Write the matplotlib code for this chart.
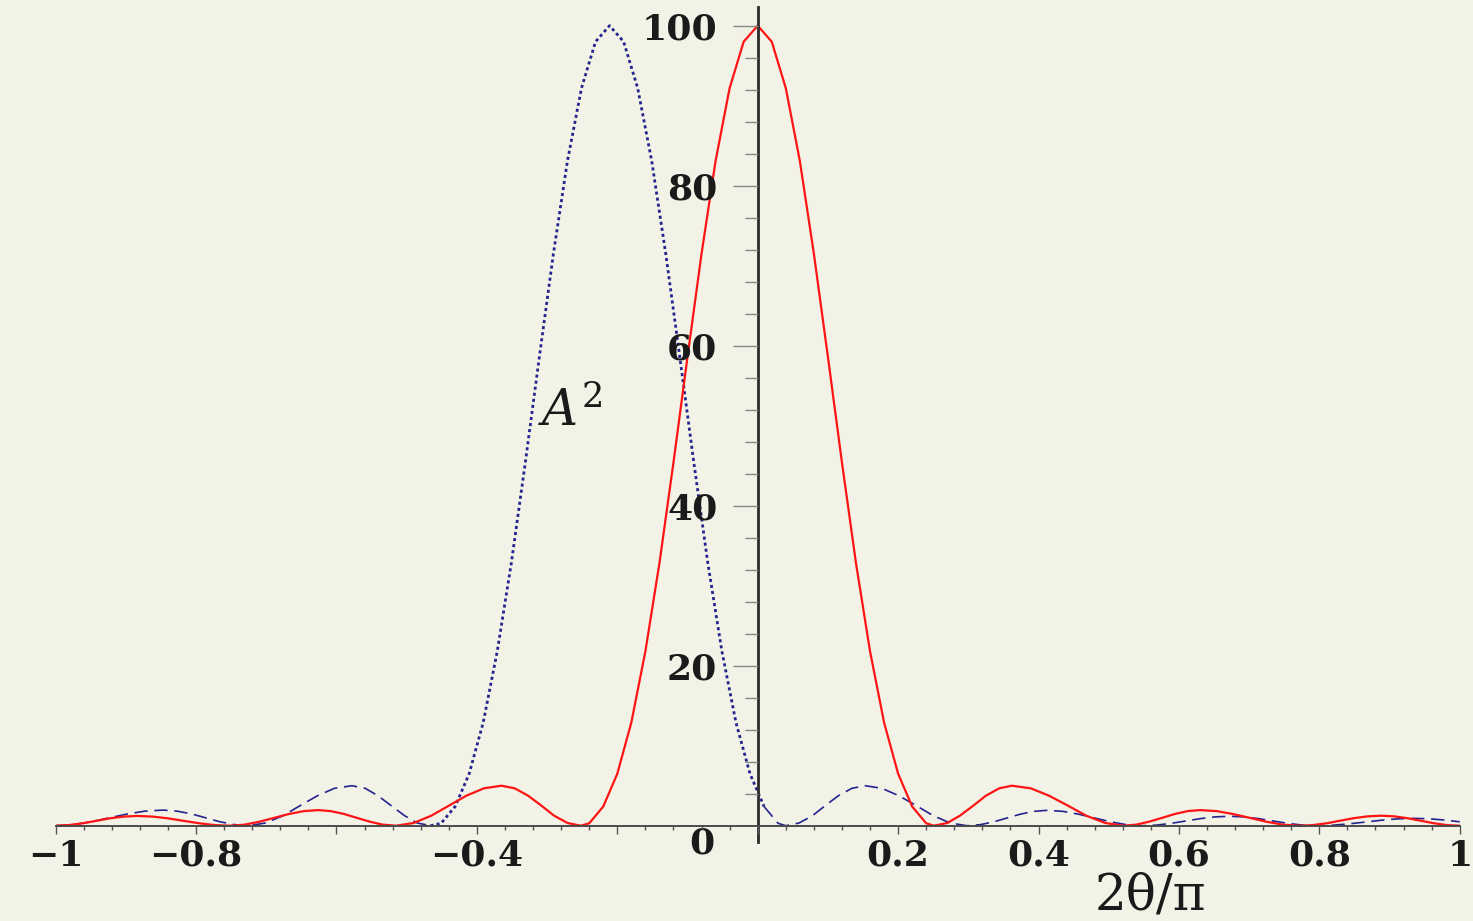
import numpy as np
import matplotlib
matplotlib.use('Agg')
import matplotlib.pyplot as plt
from matplotlib.transforms import ScaledTranslation

# values
red_x = [
  -1.000, -0.981, -0.961, -0.942, -0.923, -0.903, -0.884,
  -0.862, -0.840, -0.818, -0.796, -0.774, -0.752,
  -0.731, -0.710, -0.689, -0.668, -0.647, -0.626,
  -0.608, -0.589, -0.571, -0.552, -0.534, -0.515,
  -0.490, -0.465, -0.440, -0.415, -0.390, -0.365,
  -0.346, -0.327, -0.308, -0.290, -0.271, -0.252,
  -0.240, -0.220, -0.200, -0.180, -0.160, -0.140, -0.120, -0.100, -0.080, -0.060, -0.040, -0.020,
  0.000,
  0.020, 0.040, 0.060, 0.080, 0.100, 0.120, 0.140, 0.160, 0.180, 0.200, 0.220, 0.240, 0.251,
  0.270, 0.288, 0.307, 0.325, 0.344, 0.362,
  0.389, 0.415, 0.442, 0.468, 0.495, 0.521,
  0.539, 0.557, 0.576, 0.594, 0.612, 0.630,
  0.654, 0.677, 0.701, 0.725, 0.748, 0.772,
  0.791, 0.811, 0.830, 0.849, 0.869, 0.888,
  0.907, 0.925, 0.944, 0.963, 0.981, 1.000]
red_y = [
  0.00, 0.08, 0.31, 0.61, 0.92, 1.14, 1.22,
  1.14, 0.92, 0.61, 0.31, 0.08, 0.00,
  0.13, 0.49, 0.98, 1.46, 1.82, 1.95,
  1.82, 1.46, 0.98, 0.49, 0.13, 0.00,
  0.34, 1.25, 2.50, 3.75, 4.67, 5.00,
  4.67, 3.75, 2.50, 1.25, 0.34, 0.00,
  0.3, 2.4, 6.5, 12.9, 21.8, 32.8, 45.4, 58.6, 71.5, 83.1, 92.2, 98.0,
  100.0,
  98.0, 92.2, 83.1, 71.5, 58.6, 45.4, 32.8, 21.8, 12.9, 6.5, 2.4, 0.3, 0.0,
  0.34, 1.25, 2.50, 3.75, 4.67, 5.00,
  4.67, 3.75, 2.50, 1.25, 0.34, 0.00,
  0.13, 0.49, 0.98, 1.46, 1.82, 1.95,
  1.82, 1.46, 0.98, 0.49, 0.13, 0.00,
  0.08, 0.31, 0.63, 0.94, 1.17, 1.25,
  1.17, 0.94, 0.63, 0.31, 0.08, 0.00]

blue_x = [
  -1.000, -0.975, -0.949, -0.924, -0.898, -0.873, -0.847,
  -0.827, -0.806, -0.786, -0.766, -0.745, -0.725,
  -0.701, -0.676, -0.652, -0.627, -0.603, -0.578,
  -0.559, -0.541, -0.522, -0.503, -0.485, -0.466,
  -0.451, -0.431, -0.411, -0.391, -0.371, -0.351, -0.331, -0.311, -0.291, -0.271, -0.251, -0.231,
  -0.211,
  -0.191, -0.171, -0.151, -0.131, -0.111, -0.091, -0.071, -0.051, -0.031, -0.011, 0.009, 0.029, 0.040,
  0.059, 0.078, 0.096, 0.115, 0.134, 0.153,
  0.177, 0.201, 0.226, 0.250, 0.274, 0.298,
  0.317, 0.336, 0.355, 0.374, 0.393, 0.412,
  0.435, 0.457, 0.480, 0.503, 0.525, 0.548,
  0.569, 0.589, 0.610, 0.631, 0.651, 0.672,
  0.693, 0.713, 0.734, 0.755, 0.775, 0.796,
  0.819, 0.842, 0.866, 0.889, 0.912, 0.935,
  0.957, 0.978, 1.000]
blue_y = [
  0.00, 0.13, 0.49, 0.98, 1.46, 1.82, 1.95,
  1.82, 1.46, 0.98, 0.49, 0.13, 0.00,
  0.34, 1.25, 2.50, 3.75, 4.67, 5.00,
  4.67, 3.75, 2.50, 1.25, 0.34, 0.00,
  0.3, 2.4, 6.5, 12.9, 21.8, 32.8, 45.4, 58.6, 71.5, 83.1, 92.2, 98.0,
  100.0,
  98.0, 92.2, 83.1, 71.5, 58.6, 45.4, 32.8, 21.8, 12.9, 6.5, 2.4, 0.3, 0.0,
  0.34, 1.25, 2.50, 3.75, 4.67, 5.00,
  4.67, 3.75, 2.50, 1.25, 0.34, 0.00,
  0.13, 0.48, 0.96, 1.44, 1.79, 1.92,
  1.79, 1.44, 0.96, 0.48, 0.13, 0.00,
  0.08, 0.30, 0.59, 0.89, 1.10, 1.18,
  1.10, 0.89, 0.59, 0.30, 0.08, 0.00,
  0.06, 0.23, 0.46, 0.69, 0.86, 0.92,
  0.86, 0.71, 0.49]

x_ticks = [-1, -0.8, -0.6, -0.4, -0.2, 0, 0.2, 0.4, 0.6, 0.8, 1]
x_tick_labels = ['\u22121', '\u22120.8', '', '\u22120.4', '', '0', '0.2', '0.4', '0.6', '0.8', '1']
y_ticks = [20, 40, 60, 80, 100]
y_tick_labels = ['20', '40', '60', '80', '100']

bg = '#f2f2e7'
red = '#ff1414'
navy = '#24248f'

plt.rcParams['mathtext.fontset'] = 'dejavuserif'

fig = plt.figure(figsize=(14.73, 9.21), dpi=100)
fig.patch.set_facecolor(bg)
ax = fig.add_axes([0.0378, 0.0861, 0.9532, 0.906])
ax.set_facecolor(bg)

bx = np.array(blue_x)
by = np.array(blue_y)
# main lobe drawn dotted, side lobes dashed (like the original)
left = bx <= -0.466
mid = (bx >= -0.466) & (bx <= 0.009)
right = bx >= 0.009
ax.plot(bx[left], by[left], color=navy, lw=1.2, linestyle=(0, (8, 4)))
ax.plot(bx[right], by[right], color=navy, lw=1.2, linestyle=(0, (8, 4)))
ax.plot(bx[mid], by[mid], color=navy, lw=2.0, linestyle=(0, (1.1, 1.1)))
ax.plot(red_x, red_y, color=red, lw=1.6)

ax.set_xlim(-1, 1)
ax.set_ylim(-2, 102.3)

for s in ['top', 'right']:
  ax.spines[s].set_visible(False)
ax.spines['left'].set_position(('data', 0))
ax.spines['bottom'].set_position(('data', 0))
ax.spines['left'].set_linewidth(2.0)
ax.spines['left'].set_color('#2a2a2a')
ax.spines['bottom'].set_linewidth(1.4)
ax.spines['bottom'].set_color('#4a4a4a')
ax.set_axisbelow(False)

ax.xaxis.set_ticks_position('bottom')
ax.yaxis.set_ticks_position('left')
ax.set_xticks(x_ticks)
ax.set_xticklabels(x_tick_labels)
ax.set_xticks(np.arange(-1, 1.001, 0.04), minor=True)
ax.set_yticks(y_ticks)
ax.set_yticklabels(y_tick_labels)
ax.set_yticks(np.arange(4, 101, 4), minor=True)

ax.tick_params(axis='x', which='major', length=5.8, width=1.0, color='#555555', pad=3.5)
ax.tick_params(axis='x', which='minor', length=2.9, width=1.0, color='#555555')
ax.tick_params(axis='y', which='major', length=18, width=1.0, color='#888888', pad=11)
ax.tick_params(axis='y', which='minor', length=9.4, width=1.0, color='#888888')

for lab in ax.get_xticklabels() + ax.get_yticklabels():
  lab.set_fontfamily('DejaVu Serif')
  lab.set_fontweight('bold')
  lab.set_fontsize(26)
  lab.set_color('#1a1a1a')

# the zero label sits left of the vertical axis
for lab in ax.get_xticklabels():
  if lab.get_text() == '0':
    lab.set_transform(lab.get_transform() + ScaledTranslation(-0.56, 0.12, fig.dpi_scale_trans))

ax.text(-0.313, 50, r'$A^2$', fontsize=36, color='#1a1a1a', ha='left', va='baseline')
ax.text(0.559, -10.5, '2\u03b8/\u03c0', fontsize=36, family='DejaVu Serif', color='#1a1a1a',
        ha='center', va='baseline', clip_on=False)

fig.savefig('out.png', dpi=100, facecolor=bg)
